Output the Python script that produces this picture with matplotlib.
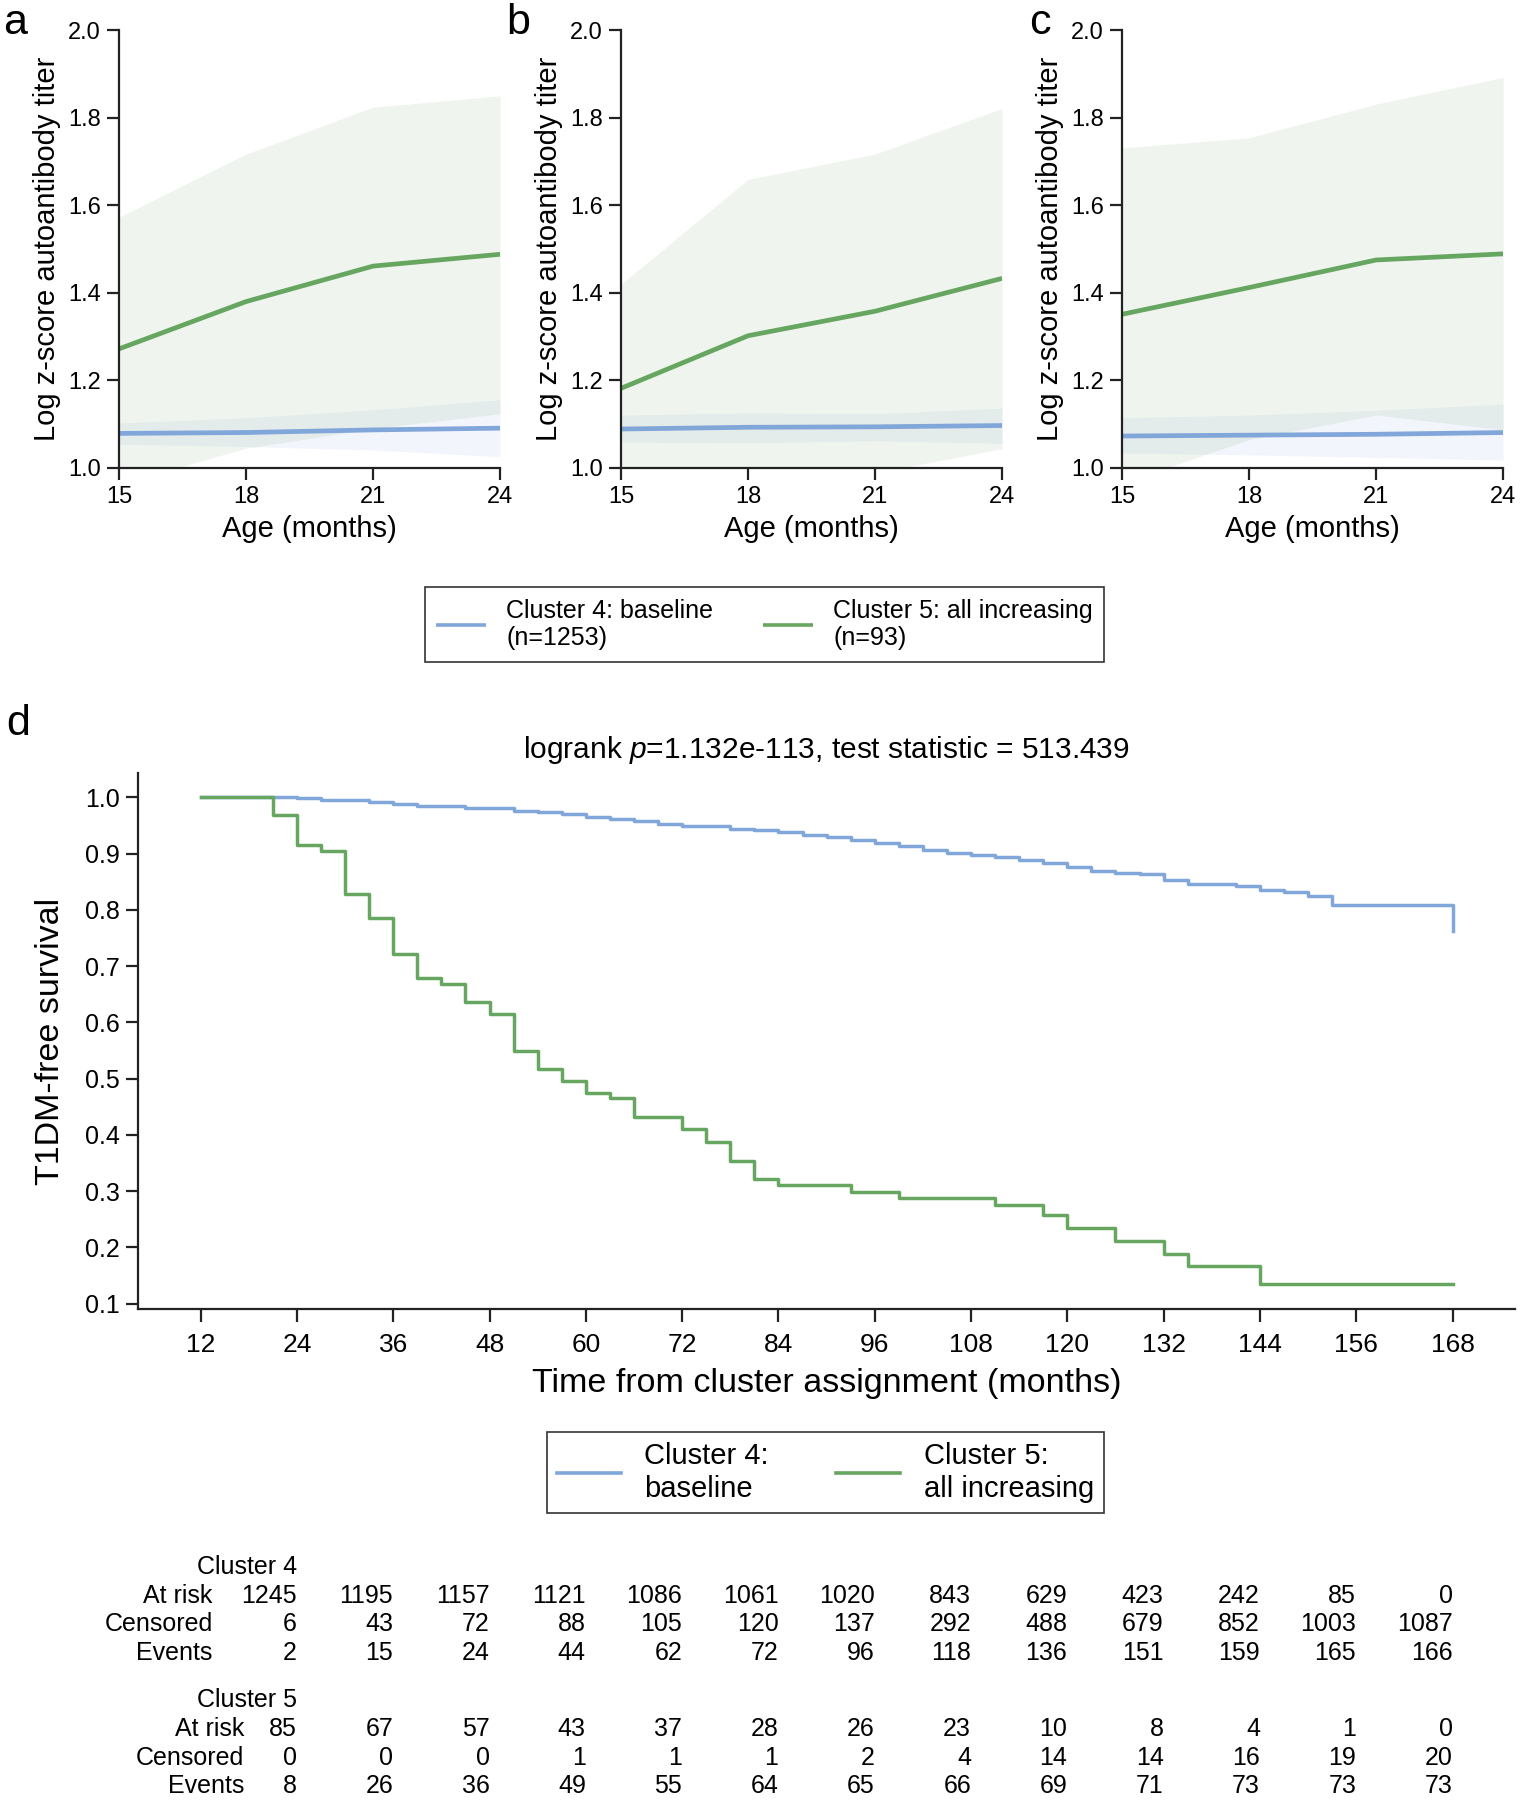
import matplotlib as mpl
import matplotlib.pyplot as plt
from matplotlib.transforms import blended_transform_factory

mpl.rcParams["font.family"] = ["Liberation Sans", "DejaVu Sans"]
mpl.rcParams["mathtext.fontset"] = "custom"
mpl.rcParams["mathtext.rm"] = "Liberation Sans"
mpl.rcParams["mathtext.it"] = "Liberation Sans:italic"

BLUE = "#80a6da"
GREEN = "#66a660"

# --- panels a-c: autoantibody trajectories ---------------------------------
ages = [15, 18, 21, 24]

a_c4_mean = [1.079, 1.081, 1.087, 1.091]
a_c4_lo = [1.054, 1.049, 1.041, 1.026]
a_c4_hi = [1.103, 1.115, 1.133, 1.156]
a_c5_mean = [1.272, 1.380, 1.461, 1.488]
a_c5_lo = [0.963, 1.045, 1.090, 1.124]
a_c5_hi = [1.573, 1.717, 1.824, 1.850]

b_c4_mean = [1.089, 1.093, 1.094, 1.097]
b_c4_lo = [1.059, 1.057, 1.062, 1.056]
b_c4_hi = [1.121, 1.126, 1.124, 1.137]
b_c5_mean = [1.182, 1.302, 1.358, 1.433]
b_c5_lo = [0.930, 0.960, 0.989, 1.044]
b_c5_hi = [1.420, 1.659, 1.717, 1.821]

c_c4_mean = [1.073, 1.075, 1.077, 1.081]
c_c4_lo = [1.034, 1.030, 1.024, 1.018]
c_c4_hi = [1.115, 1.121, 1.132, 1.146]
c_c5_mean = [1.351, 1.412, 1.475, 1.489]
c_c5_lo = [0.965, 1.065, 1.121, 1.087]
c_c5_hi = [1.731, 1.754, 1.831, 1.892]

# --- panel d: Kaplan-Meier curves -------------------------------------------
c4_time = [12, 24, 27, 33, 36, 39, 45, 51, 54, 57, 60, 63, 66, 69, 72, 78, 81,
           84, 87, 90, 93, 96, 99, 102, 105, 108, 111, 114, 117, 120, 123, 126,
           129, 132, 135, 141, 144, 147, 150, 153, 168]
c4_surv = [1.000, 0.999, 0.996, 0.991, 0.988, 0.985, 0.981, 0.976, 0.974, 0.970,
           0.965, 0.961, 0.958, 0.953, 0.949, 0.944, 0.942, 0.939, 0.934, 0.929,
           0.924, 0.919, 0.913, 0.906, 0.901, 0.897, 0.894, 0.889, 0.883, 0.877,
           0.870, 0.866, 0.863, 0.854, 0.846, 0.842, 0.835, 0.831, 0.825, 0.809,
           0.763]

c5_time = [12, 21, 24, 27, 30, 33, 36, 39, 42, 45, 48, 51, 54, 57, 60, 63, 66,
           72, 75, 78, 81, 84, 93, 99, 111, 117, 120, 126, 132, 135, 144, 168]
c5_surv = [1.000, 0.969, 0.915, 0.904, 0.828, 0.786, 0.721, 0.679, 0.668, 0.636,
           0.615, 0.549, 0.518, 0.496, 0.475, 0.465, 0.431, 0.410, 0.388, 0.354,
           0.321, 0.311, 0.299, 0.288, 0.276, 0.257, 0.235, 0.211, 0.189, 0.166,
           0.134, 0.134]

# --- at-risk table ----------------------------------------------------------
table_times = [24, 36, 48, 60, 72, 84, 96, 108, 120, 132, 144, 156, 168]
c4_at_risk = [1245, 1195, 1157, 1121, 1086, 1061, 1020, 843, 629, 423, 242, 85, 0]
c4_censored = [6, 43, 72, 88, 105, 120, 137, 292, 488, 679, 852, 1003, 1087]
c4_events = [2, 15, 24, 44, 62, 72, 96, 118, 136, 151, 159, 165, 166]
c5_at_risk = [85, 67, 57, 43, 37, 28, 26, 23, 10, 8, 4, 1, 0]
c5_censored = [0, 0, 0, 1, 1, 1, 2, 4, 14, 14, 16, 19, 20]
c5_events = [8, 26, 36, 49, 55, 64, 65, 66, 69, 71, 73, 73, 73]

c4_label = "Cluster 4: baseline"
c5_label = "Cluster 5: all increasing"
c4_n = 1253
c5_n = 93

fig = plt.figure(figsize=(15.2, 18), dpi=100)

TICK_KW = dict(direction="out", width=1.6, color="#222222")


def style_axes(ax):
    for side in ("top", "right"):
        ax.spines[side].set_visible(False)
    for side in ("left", "bottom"):
        ax.spines[side].set_linewidth(1.6)
        ax.spines[side].set_color("#222222")


panels = [
    ("a", 0.0783, 0.002, (a_c4_mean, a_c4_lo, a_c4_hi), (a_c5_mean, a_c5_lo, a_c5_hi)),
    ("b", 0.4086, 0.333, (b_c4_mean, b_c4_lo, b_c4_hi), (b_c5_mean, b_c5_lo, b_c5_hi)),
    ("c", 0.7382, 0.677, (c_c4_mean, c_c4_lo, c_c4_hi), (c_c5_mean, c_c5_lo, c_c5_hi)),
]
traj_handles = []
for letter, left, letter_x, c4, c5 in panels:
    ax = fig.add_axes([left, 0.740, 0.2507, 0.2433])
    ax.fill_between(ages, c4[1], c4[2], color=BLUE, alpha=0.1, lw=0)
    ax.fill_between(ages, c5[1], c5[2], color=GREEN, alpha=0.1, lw=0)
    h4, = ax.plot(ages, c4[0], color=BLUE, lw=3.4, solid_capstyle="butt")
    h5, = ax.plot(ages, c5[0], color=GREEN, lw=3.4, solid_capstyle="butt")
    traj_handles = [h4, h5]
    ax.set_xlim(15, 24)
    ax.set_ylim(1.0, 2.0)
    ax.set_xticks([15, 18, 21, 24])
    ax.set_yticks([1.0, 1.2, 1.4, 1.6, 1.8, 2.0])
    ax.set_yticklabels(["1.0", "1.2", "1.4", "1.6", "1.8", "2.0"])
    ax.tick_params(labelsize=17, length=8.5, pad=4.5, **TICK_KW)
    ax.set_xlabel("Age (months)", fontsize=21, labelpad=5)
    ax.set_ylabel("Log z-score autoantibody titer", fontsize=21, labelpad=5)
    style_axes(ax)
    fig.text(letter_x, 0.981, letter, fontsize=31, ha="left", va="baseline")

leg1 = fig.legend(
    traj_handles,
    [f"{c4_label}\n(n={c4_n})", f"{c5_label}\n(n={c5_n})"],
    loc="center", bbox_to_anchor=(0.503, 0.653), ncol=2, fontsize=18,
    frameon=True, fancybox=False, edgecolor="#333333", framealpha=1,
    handlelength=2.0, columnspacing=2.0, handletextpad=0.8,
    borderpad=0.45, labelspacing=0.3,
)
leg1.get_frame().set_linewidth(1.2)
for line in leg1.get_lines():
    line.set_linewidth(2.6)

# --- survival panel ---------------------------------------------------------
axd = fig.add_axes([0.0908, 0.2728, 0.906, 0.2978])
h4d, = axd.plot(c4_time, c4_surv, drawstyle="steps-post", color=BLUE, lw=2.5)
h5d, = axd.plot(c5_time, c5_surv, drawstyle="steps-post", color=GREEN, lw=2.5)
axd.set_xlim(4.2, 175.8)
axd.set_ylim(0.0905, 1.0435)
axd.set_xticks(list(range(12, 169, 12)))
axd.set_yticks([0.1, 0.2, 0.3, 0.4, 0.5, 0.6, 0.7, 0.8, 0.9, 1.0])
axd.set_yticklabels(["0.1", "0.2", "0.3", "0.4", "0.5", "0.6", "0.7", "0.8", "0.9", "1.0"])
axd.tick_params(axis="x", labelsize=19, length=9.5, pad=7.5, **TICK_KW)
axd.tick_params(axis="y", labelsize=18, length=8.5, pad=4.5, **TICK_KW)
axd.set_xlabel("Time from cluster assignment (months)", fontsize=24.5, labelpad=8)
axd.set_ylabel("T1DM-free survival", fontsize=24.5, labelpad=14)
style_axes(axd)
fig.text(0.004, 0.5917, "d", fontsize=31, ha="left", va="baseline")
fig.text(0.5434, 0.579, r"logrank $p$=1.132e-113, test statistic = 513.439",
         fontsize=21.5, ha="center", va="baseline")

leg2 = fig.legend(
    [h4d, h5d], ["Cluster 4:\nbaseline", "Cluster 5:\nall increasing"],
    loc="center", bbox_to_anchor=(0.543, 0.182), ncol=2, fontsize=21,
    frameon=True, fancybox=False, edgecolor="#333333", framealpha=1,
    handlelength=2.2, columnspacing=2.3, handletextpad=0.8,
    borderpad=0.35, labelspacing=0.2,
)
leg2.get_frame().set_linewidth(1.2)
for line in leg2.get_lines():
    line.set_linewidth(2.6)

# --- at-risk table ----------------------------------------------------------
tr = blended_transform_factory(axd.transData, fig.transFigure)
blocks = [
    ("Cluster 4", 13.5, (c4_at_risk, c4_censored, c4_events), [1567, 1596, 1624, 1653]),
    ("Cluster 5", 17.4, (c5_at_risk, c5_censored, c5_events), [1700, 1729, 1758, 1786]),
]
row_names = ["At risk", "Censored", "Events"]
for title, label_x, rows, ys in blocks:
    fy = [1 - y / 1800 for y in ys]
    fig.text(table_times[0], fy[0], title, transform=tr, fontsize=18,
             ha="right", va="center")
    for name, vals, y in zip(row_names, rows, fy[1:]):
        fig.text(label_x, y, name, transform=tr, fontsize=18, ha="right", va="center")
        for t, v in zip(table_times, vals):
            fig.text(t, y, str(v), transform=tr, fontsize=18, ha="right", va="center")

fig.savefig("out.png", dpi=100)
